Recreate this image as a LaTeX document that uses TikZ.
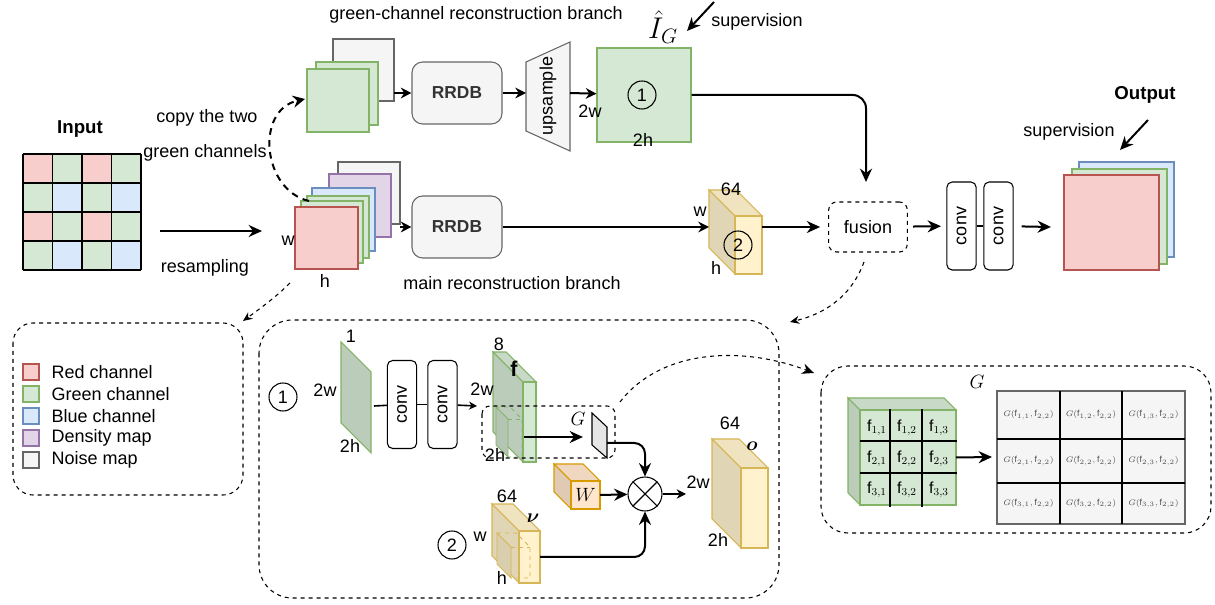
\documentclass[tikz,border=0pt]{standalone}
\usepackage{fontspec}
\setmainfont{Liberation Sans}
\usepackage{bm}
\usepackage{graphicx}
\usetikzlibrary{arrows.meta,positioning}

\definecolor{redf}{HTML}{F8CECC}\definecolor{redd}{HTML}{B85450}
\definecolor{greenf}{HTML}{D5E8D4}\definecolor{greend}{HTML}{82B366}
\definecolor{bluef}{HTML}{DAE8FC}\definecolor{blued}{HTML}{6C8EBF}
\definecolor{purplef}{HTML}{E1D5E7}\definecolor{purpled}{HTML}{9673A6}
\definecolor{grayf}{HTML}{F5F5F5}\definecolor{grayd}{HTML}{666666}
\definecolor{yellowf}{HTML}{FFF2CC}\definecolor{yellowd}{HTML}{D6B656}
\definecolor{orangef}{HTML}{FFE6CC}\definecolor{oranged}{HTML}{D79B00}

% name, x, y (back top left), depth, front width, front height, fill, stroke
\newcommand\featcube[8]{%
  \begin{scope}[shift={(#2,#3)}, line width=0.8pt]
    \filldraw[draw=#8, fill=#7!88!black] (0,0) -- (#4,#4) -- (#4,#4+#6) -- (0,#6) -- cycle;
    \filldraw[draw=#8, fill=#7!94!black] (0,0) -- (#5,0) -- (#4+#5,#4) -- (#4,#4) -- cycle;
    \filldraw[draw=#8, fill=#7] (#4,#4) rectangle ++(#5,#6);
    \coordinate (#1) at (#4+#5,#4+#6/2);
  \end{scope}}

\begin{document}
\begin{tikzpicture}[x=0.75pt,y=-0.75pt,>=Stealth,
  lbl/.style={font=\fontsize{13.5}{15}\selectfont, inner sep=1pt},
  bold/.style={font=\fontsize{14}{16}\selectfont\bfseries, inner sep=1pt},
  layer/.style 2 args={draw=#1, fill=#2, line width=0.8pt},
  rrdb/.style={draw=grayd, fill=grayf, rounded corners=8pt, line width=0.8pt,
    minimum width=67.5pt, minimum height=46.5pt, text=black!80,
    font=\fontsize{13}{15}\selectfont\bfseries},
  convbox/.style={draw, rounded corners=4pt, line width=0.8pt, rotate=90,
    minimum width=66pt, minimum height=22pt, lbl},
  num/.style={circle, draw, line width=0.8pt, minimum size=21pt, inner sep=0pt, lbl},
  dashbox/.style={draw, dashed, rounded corners=6pt, line width=0.8pt, lbl},
  dline/.style={dashed, line width=0.8pt},
  arr/.style={line width=1.5pt, -{Stealth[length=10pt,width=9pt]}},
  sarr/.style={line width=1.5pt, -{Stealth[length=8pt,width=8pt]}}]
\useasboundingbox (0,0) rectangle (1215,605);
%% ========================================================
%% input
\node[bold] (input) at (80,129) {Input};
\foreach \r/\ca/\cb in {0/redf/greenf,1/greenf/bluef,2/redf/greenf,3/greenf/bluef}
  \foreach \c/\col in {0/\ca,1/\cb,2/\ca,3/\cb}
    \fill[fill=\col] (23+29.5*\c,154+29*\r) rectangle ++(29.5,29);
\foreach \k in {0,...,4} {
  \draw[line width=1.2pt] (23+29.5*\k,154) -- (23+29.5*\k,270);
  \draw[line width=1.2pt] (23,154+29*\k) -- (141,154+29*\k);
}
\node[lbl] (copy) at (207,118) {copy the two};
\node[lbl] (greench) at (205,153) {green channels};
\node[lbl] (resamp) at (205,268) {resampling};
\coordinate (in-e) at (160,231);
\coordinate (stack-w) at (262,231);
\draw[arr] (in-e) -- (stack-w);
%% ========================================================
%% green-channel branch
\node[lbl] (gbranch) at (476,15) {green-channel reconstruction branch};
\draw[layer={grayd}{grayf}] (333,39) rectangle (394,101);
\draw[layer={greend}{greenf}] (316,62) rectangle (378,125);
\draw[layer={greend}{greenf}] (307,69) rectangle (369,132);
\coordinate (gstack-e) at (394,93);
\coordinate (gstack-w) at (305,99);
\node[rrdb] (rrdb1) at (457,93) {RRDB};
\draw[sarr] (gstack-e) -- (rrdb1);
\draw[layer={grayd}{grayf}] (526,62) -- (570,42) -- (570,151) -- (526,131) -- cycle;
\node[lbl, rotate=90] (upsample) at (548,96) {upsample};
\coordinate (up-w) at (526,93);
\coordinate (up-e) at (570,93);
\draw[sarr] (rrdb1) -- (up-w);
\node[draw=greend, fill=greenf, line width=0.8pt, minimum width=70.5pt, minimum height=70.5pt] (ig) at (644,95) {};
\draw[sarr] (up-e) -- (ig);
\node[num] (n1) at (642,95) {1};
\node[lbl] (ig-w) at (590,111) {2w};
\node[lbl] (ig-h) at (643,140) {2h};
\node[font=\fontsize{17}{19}\selectfont, inner sep=0pt] (ighat) at (663,27) {\scalebox{1.3}{$\hat{I}_G$}};
\coordinate (sup1-s) at (714,2);
\coordinate (sup1-e) at (687,31);
\draw[arr] (sup1-s) -- (sup1-e);
\node[lbl] (sup1) at (757,22) {supervision};
%% ========================================================
%% main branch
\draw[layer={grayd}{grayf}] (338,162) rectangle (400,224);
\draw[layer={purpled}{purplef}] (329,174) rectangle (391,237);
\draw[layer={blued}{bluef}] (312,188) rectangle (375,251);
\draw[layer={greend}{greenf}] (307,196) rectangle (369,258);
\draw[layer={greend}{greenf}] (301,201) rectangle (363,263);
\draw[layer={redd}{redf}] (295,207) rectangle (358,269);
\node[lbl] (w0) at (288,241) {w};
\node[lbl] (h0) at (325,281) {h};
\coordinate (mstack-e) at (400,227);
\node[rrdb] (rrdb2) at (457,227) {RRDB};
\draw[sarr] (mstack-e) -- (rrdb2);
\node[lbl] (mbranch) at (512,283) {main reconstruction branch};
\featcube{f2}{709}{190}{26}{27}{58}{yellowf}{yellowd}
\coordinate (f2-w) at (709,227);
\coordinate (f2-e) at (762,227);
\draw[sarr] (rrdb2) -- (f2-w);
\node[lbl] (f2-d) at (731,189) {64};
\node[lbl] (f2-wl) at (700,212) {w};
\node[lbl] (f2-hl) at (716,268) {h};
\node[num] (n2) at (738,245) {2};
% copy the green channels
\coordinate (copy-s) at (309,201);
\draw[dashed, line width=1.5pt, dash pattern=on 5pt off 4pt, -{Stealth[length=9pt,width=9pt]}]
  (copy-s) .. controls (262,190) and (255,110) .. (gstack-w);
%% ========================================================
%% fusion and output
\node[dashbox, minimum width=59pt, minimum height=37.5pt] (fusion) at (868,227) {fusion};
\draw[arr, shorten >=6pt] (f2-e) -- (fusion);
\coordinate (fus-in) at (866,182);
\draw[arr, rounded corners=10pt] (ig.east) -| (fus-in);
\node[convbox] (conv1) at (961.5,226) {conv};
\node[convbox] (conv2) at (998.5,226) {conv};
\draw[arr, shorten <=4pt, shorten >=4pt] (fusion) -- (conv1);
\draw[line width=1.2pt] (conv1) -- (conv2);
\draw[layer={blued}{bluef}] (1079,162) rectangle (1174,257);
\draw[layer={greend}{greenf}] (1072,169) rectangle (1167,264);
\draw[layer={redd}{redf}] (1064,175) rectangle (1159,270);
\coordinate (out-w) at (1051,227);
\draw[arr, shorten <=6pt] (conv2) -- (out-w);
\node[bold] (output) at (1145,95) {Output};
\node[lbl] (sup2) at (1069,132) {supervision};
\coordinate (sup2-s) at (1148,120);
\coordinate (sup2-e) at (1120,150);
\draw[arr] (sup2-s) -- (sup2-e);
%% ========================================================
%% dashed frames
\draw[dline, rounded corners=15pt] (13,323) rectangle (243,495);
\draw[dline, rounded corners=25pt] (259,320) rectangle (779,598);
\draw[dline, rounded corners=20pt] (821,366) rectangle (1211,533);
\coordinate (leg-s) at (290,283);
\coordinate (leg-e) at (243,321);
\draw[dline, -{Stealth[length=7pt,width=6pt]}] (leg-s) .. controls (275,298) and (258,310) .. (leg-e);
\coordinate (fus-s) at (864,262);
\coordinate (big-e) at (790,322);
\draw[dline, -{Stealth[length=7pt,width=6pt]}] (fus-s) .. controls (850,300) and (820,315) .. (big-e);
%% ========================================================
%% legend
\foreach \i/\dc/\fc/\t in {0/redd/redf/Red channel,1/greend/greenf/Green channel,
    2/blued/bluef/Blue channel,3/purpled/purplef/Density map,4/grayd/grayf/Noise map} {
  \draw[layer={\dc}{\fc}] (23,364+22*\i) rectangle ++(16,16);
  \node[lbl, anchor=west] (leg\i) at (50,372+22*\i) {\t};
}
%% ========================================================
%% detail of the fusion
\node[num] (n1b) at (283,397) {1};
\filldraw[draw=greend, fill=greenf!88!black, line width=0.8pt] (341,342) -- (371,372) -- (371,453) -- (341,423) -- cycle;
\node[lbl] (s-d) at (351,336) {1};
\node[lbl] (s-w) at (325,390) {2w};
\node[lbl] (s-h) at (350,446) {2h};
\node[convbox] (cv1) at (402,404.5) {conv};
\node[convbox] (cv2) at (442.5,404.5) {conv};
\coordinate (slab-e) at (374,406);
\draw[line width=1.2pt] (slab-e) -- (cv1);
\draw[line width=1.2pt] (cv1) -- (cv2);
\coordinate (f-w) at (477,406);
\draw[line width=1.2pt, -{Stealth[length=6pt,width=6pt]}] (cv2) -- (f-w);
\featcube{fcube}{493}{352}{30}{13}{80}{greenf}{greend}
\filldraw[draw=greend, fill=greenf!85!black, line width=0.6pt] (496,407) -- (508,419) -- (508,457) -- (496,445) -- cycle;
\draw[draw=greend, dashed, line width=0.6pt] (496,407) -- (510,407) -- (522,419) -- (522,457) -- (508,457);
\draw[draw=greend, dashed, line width=0.6pt] (508,419) -- (522,419);
\node[lbl] (f-d) at (499,344) {8};
\node[font=\fontsize{16}{18}\selectfont] (f-n) at (514,369) {$\mathbf{f}$};
\node[lbl] (f-wl) at (482,389) {2w};
\node[lbl] (f-hl) at (495,455) {2h};
\draw[dline, rounded corners=6pt] (482,406) rectangle (615,458);
\coordinate (fin-e) at (524,437);
\coordinate (g-w) at (583,437);
\draw[arr] (fin-e) -- (g-w);
\node[font=\fontsize{14}{16}\selectfont] (glbl) at (578,419) {$G$};
\filldraw[draw=black, fill=black!10, line width=0.8pt] (592,413) -- (607,427) -- (607,458) -- (592,445) -- cycle;
\coordinate (g-e) at (607,443);
\node[draw, circle, minimum size=25.5pt, line width=0.8pt] (mult) at (645,494) {};
\draw[line width=0.8pt] (mult.north west) -- (mult.south east) (mult.north east) -- (mult.south west);
\draw[arr, rounded corners=8pt] (g-e) -| (mult.north);
\featcube{wcube}{554}{464}{17}{29}{28}{orangef}{oranged}
\node[font=\fontsize{15}{17}\selectfont] (wlbl) at (585.5,495) {$W$};
\draw[arr] (wcube) -- (mult);
\featcube{vcube}{492}{504}{27}{21}{52}{yellowf}{yellowd}
\filldraw[draw=yellowd, fill=yellowf!85!black, line width=0.6pt] (497,533) -- (511,547) -- (511,578) -- (497,564) -- cycle;
\draw[draw=yellowd, dashed, line width=0.6pt] (497,533) -- (516,533) -- (530,547) -- (530,578) -- (511,578);
\draw[draw=yellowd, dashed, line width=0.6pt] (511,547) -- (530,547);
\node[lbl] (v-d) at (507,496) {64};
\node[font=\fontsize{15}{17}\selectfont] (v-n) at (533,518) {$\bm{\nu}$};
\node[lbl] (v-wl) at (480,537) {w};
\node[lbl] (v-hl) at (502,578) {h};
\node[num] (n2b) at (452,545) {2};
\draw[arr, rounded corners=8pt] (vcube) -| (mult.south);
\coordinate (o-w) at (686,494);
\draw[line width=1.2pt, -{Stealth[length=7pt,width=7pt]}] (mult) -- (o-w);
\featcube{ocube}{712}{439}{29}{27}{80}{yellowf}{yellowd}
\node[lbl] (o-d) at (730,423) {64};
\node[font=\fontsize{15}{17}\selectfont] (o-n) at (752,446) {$\bm{o}$};
\node[lbl] (o-wl) at (698,482) {2w};
\node[lbl] (o-hl) at (718,540) {2h};
\coordinate (frect-ne) at (620,402);
\coordinate (gbox-w) at (814,373);
\draw[dline, -{Stealth[length=9pt,width=8pt]}] (frect-ne) .. controls (660,350) and (740,345) .. (gbox-w);
%% ========================================================
%% the G operation
\node[font=\fontsize{15}{17}\selectfont] (gtitle) at (977,382) {$G$};
\featcube{fgrid}{848}{398}{12}{96}{95}{greenf}{greend}
\draw[line width=1pt] (890,409) -- (890,507) (922,409) -- (922,507)
  (860,441) -- (957,441) (860,473) -- (957,473);
\foreach \i/\y in {1/428,2/459,3/490}
  \foreach \j/\x in {1/877,2/907,3/939}
    \node[font=\fontsize{12}{14}\selectfont] (f\i\j) at (\x,\y) {$\mathrm{f}_{\i,\j}$};
\coordinate (ggrid-w) at (992,457);
\draw[arr] (fgrid) -- (ggrid-w);
\draw[draw=grayd, fill=grayf, line width=0.8pt] (997,391) rectangle (1185,524);
\draw[line width=0.8pt] (1060,391) -- (1060,524) (1122,391) -- (1122,524)
  (997,439) -- (1185,439) (997,483) -- (1185,483);
\foreach \i/\y in {1/415,2/461,3/503.5}
  \foreach \j/\x in {1/1028.5,2/1091,3/1153.5}
    \node[font=\fontsize{6.5}{7}\selectfont, text=black!70] (g\i\j) at (\x,\y) {$G(\mathrm{f}_{\i,\j},\mathrm{f}_{2,2})$};
%% ========================================================
\end{tikzpicture}
\end{document}
